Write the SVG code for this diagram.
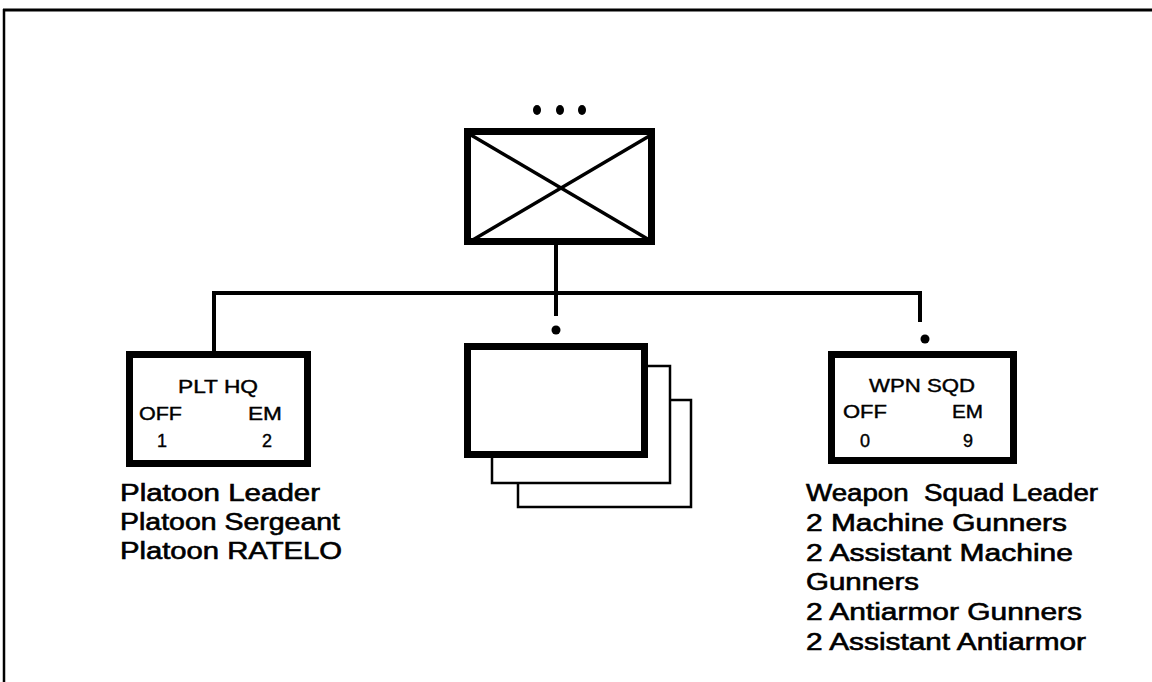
<svg xmlns="http://www.w3.org/2000/svg" width="1152" height="682" viewBox="0 0 1152 682">
<style>
.thick{fill:none;stroke:#000;stroke-width:7}
.thin{fill:none;stroke:#000;stroke-width:2.5}
.conn{fill:none;stroke:#000;stroke-width:4}
.bt{font-family:"Liberation Sans",Arial,sans-serif;font-size:18px;fill:#000;stroke:#000;stroke-width:0.4}
.lt{font-family:"Liberation Sans",Arial,sans-serif;font-size:23px;fill:#000;stroke:#000;stroke-width:0.6;white-space:pre}
</style>
<rect width="1152" height="682" fill="#fff"/>
<g id="frame">
<line x1="3" y1="10" x2="1152" y2="10" stroke="#000" stroke-width="3"/>
<line x1="4" y1="9" x2="4" y2="682" stroke="#000" stroke-width="2.5"/>
</g>
<g id="connectors">
<line class="conn" x1="556" y1="245" x2="556" y2="293"/>
<polyline class="conn" points="214,351 214,293 920,293 920,322"/>
<line class="conn" x1="556" y1="293" x2="556" y2="316"/>
<circle cx="556" cy="330" r="4.5"/>
<circle cx="925" cy="339" r="4.5"/>
</g>
<g id="platoon">
<ellipse cx="537" cy="110" rx="4" ry="5"/>
<ellipse cx="560" cy="110" rx="4" ry="5"/>
<ellipse cx="582" cy="110" rx="4" ry="5"/>
<rect class="thick" x="467.5" y="131.5" width="184" height="110"/>
<line x1="471" y1="135" x2="651" y2="241" stroke="#000" stroke-width="3.5"/>
<line x1="651" y1="135" x2="471" y2="241" stroke="#000" stroke-width="3.5"/>
</g>
<g id="plt-hq">
<rect class="thick" x="129.5" y="354.5" width="178" height="109"/>
<text class="bt" x="218" y="393" text-anchor="middle" textLength="80" lengthAdjust="spacingAndGlyphs">PLT HQ</text>
<text class="bt" x="139" y="420" textLength="43" lengthAdjust="spacingAndGlyphs">OFF</text>
<text class="bt" x="248" y="420" textLength="34" lengthAdjust="spacingAndGlyphs">EM</text>
<text class="bt" x="162" y="447" text-anchor="middle">1</text>
<text class="bt" x="267" y="447" text-anchor="middle">2</text>
<text class="lt" x="120" y="501" textLength="200" lengthAdjust="spacingAndGlyphs">Platoon Leader</text>
<text class="lt" x="120" y="530" textLength="220" lengthAdjust="spacingAndGlyphs">Platoon Sergeant</text>
<text class="lt" x="120" y="559" textLength="222" lengthAdjust="spacingAndGlyphs">Platoon RATELO</text>
</g>
<g id="rifle-squads">
<polyline class="thin" points="670,400 691,400 691,507 518,507 518,483"/>
<polyline class="thin" points="648,366 670,366 670,483 492,483 492,458"/>
<rect class="thick" x="467.5" y="346.5" width="177" height="108" fill="#fff"/>
</g>
<g id="wpn-sqd">
<rect class="thick" x="831.5" y="354.5" width="182" height="106"/>
<text class="bt" x="922" y="392" text-anchor="middle" textLength="106" lengthAdjust="spacingAndGlyphs">WPN SQD</text>
<text class="bt" x="843" y="418" textLength="44" lengthAdjust="spacingAndGlyphs">OFF</text>
<text class="bt" x="952" y="418" textLength="31" lengthAdjust="spacingAndGlyphs">EM</text>
<text class="bt" x="865" y="447" text-anchor="middle">0</text>
<text class="bt" x="968" y="447" text-anchor="middle">9</text>
<text class="lt" x="806" y="501" textLength="292" lengthAdjust="spacingAndGlyphs">Weapon  Squad Leader</text>
<text class="lt" x="806" y="531" textLength="261" lengthAdjust="spacingAndGlyphs">2 Machine Gunners</text>
<text class="lt" x="806" y="561" textLength="267" lengthAdjust="spacingAndGlyphs">2 Assistant Machine</text>
<text class="lt" x="806" y="590" textLength="113" lengthAdjust="spacingAndGlyphs">Gunners</text>
<text class="lt" x="806" y="620" textLength="276" lengthAdjust="spacingAndGlyphs">2 Antiarmor Gunners</text>
<text class="lt" x="806" y="650" textLength="280" lengthAdjust="spacingAndGlyphs">2 Assistant Antiarmor</text>
</g>
</svg>
